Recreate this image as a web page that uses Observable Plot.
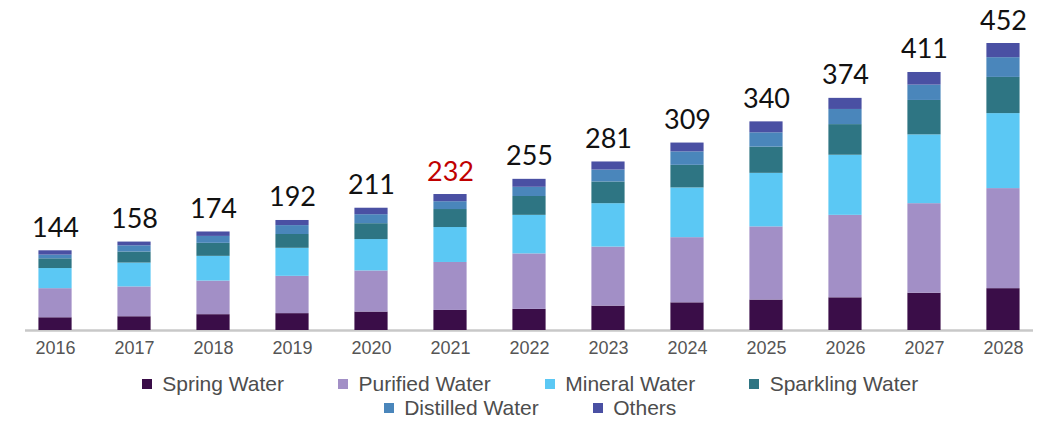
<!DOCTYPE html>
<html>
<head>
<meta charset="utf-8">
<script src="https://cdn.jsdelivr.net/npm/d3@7"></script>
<script src="https://cdn.jsdelivr.net/npm/@observablehq/plot@0.6"></script>
<style>
  html, body { margin: 0; padding: 0; background: #fff; }
  #chart svg { display: block; }
  #legend > div {
    display: flex; flex-wrap: wrap; justify-content: center; align-items: center;
    column-gap: 54px; row-gap: 0; width: 800px; margin: 0 0 0 130px; padding-top: 10px;
    font-family: "Liberation Sans", Arial, sans-serif; font-size: 21px; line-height: 24px;
    color: #4d4d4d; min-height: 0;
  }
  #legend > div > span { margin-right: 0 !important; }
</style>
</head>
<body>
<div id="chart"></div>
<div id="legend"></div>
<script>
// ---- data ----
const years = ["2016","2017","2018","2019","2020","2021","2022","2023","2024","2025","2026","2027","2028"];
const series = ["Spring Water","Purified Water","Mineral Water","Sparkling Water","Distilled Water","Others"];
const springWater    = [28, 30, 34, 36, 39, 42, 44, 50, 56, 61, 65, 73, 81];
const purifiedWater  = [53, 54, 60, 66, 72, 83, 95, 100, 109, 121, 135, 145, 160];
const mineralWater   = [34, 40, 41, 46, 51, 56, 61, 68, 77, 82, 91, 103, 111];
const sparklingWater = [16, 18, 21, 22, 25, 28, 29, 33, 34, 39, 45, 50, 52];
const distilledWater = [6, 10, 11, 14, 14, 12, 14, 18, 20, 21, 22, 22, 28];
const others         = [7, 6, 7, 8, 10, 11, 12, 12, 13, 16, 16, 18, 20];
const totals         = [144, 158, 174, 192, 211, 232, 255, 281, 309, 340, 374, 411, 452];
const highlightYear = "2021";
const colors = ["#3a0d48", "#a28fc6", "#5bc8f4", "#2e7583", "#4a86bb", "#4a50a3"];

const seriesValues = [springWater, purifiedWater, mineralWater, sparklingWater, distilledWater, others];
const rows = [];
years.forEach((year, i) => {
  series.forEach((s, j) => rows.push({year, series: s, value: seriesValues[j][i]}));
});
const labels = years.map((year, i) => ({year, total: totals[i]}));

const chart = Plot.plot({
  width: 1038,
  height: 362,
  marginTop: 43,
  marginBottom: 32,
  marginLeft: 25,
  marginRight: 5,
  style: {fontFamily: "'Liberation Sans', Arial, sans-serif", color: "#595959", background: "#fff"},
  x: {type: "band", domain: years, paddingInner: 0.58, paddingOuter: 0.17, round: false, label: null},
  y: {type: "pow", exponent: 1.12, domain: [0, 452], axis: null},
  color: {domain: series, range: colors},
  marks: [
    Plot.ruleY([0], {stroke: "#c8c8c8", strokeWidth: 2.5}),
    Plot.barY(rows, {x: "year", y: "value", fill: "series", order: null}),
    Plot.axisX({tickSize: 0, tickPadding: 11, fontSize: 18, fill: "#555555", label: null}),
    Plot.text(labels, {
      x: "year", y: "total", text: d => String(d.total),
      lineAnchor: "bottom", dy: -14, fontSize: 27, fontFamily: "Lato, 'Open Sans', sans-serif",
      fill: d => d.year === highlightYear ? "#c00000" : "#111111"
    })
  ]
});
document.getElementById("chart").appendChild(chart);

const legend = Plot.legend({
  color: {type: "ordinal", domain: series, range: colors},
  swatchSize: 10
});
document.getElementById("legend").appendChild(legend);
</script>
</body>
</html>
